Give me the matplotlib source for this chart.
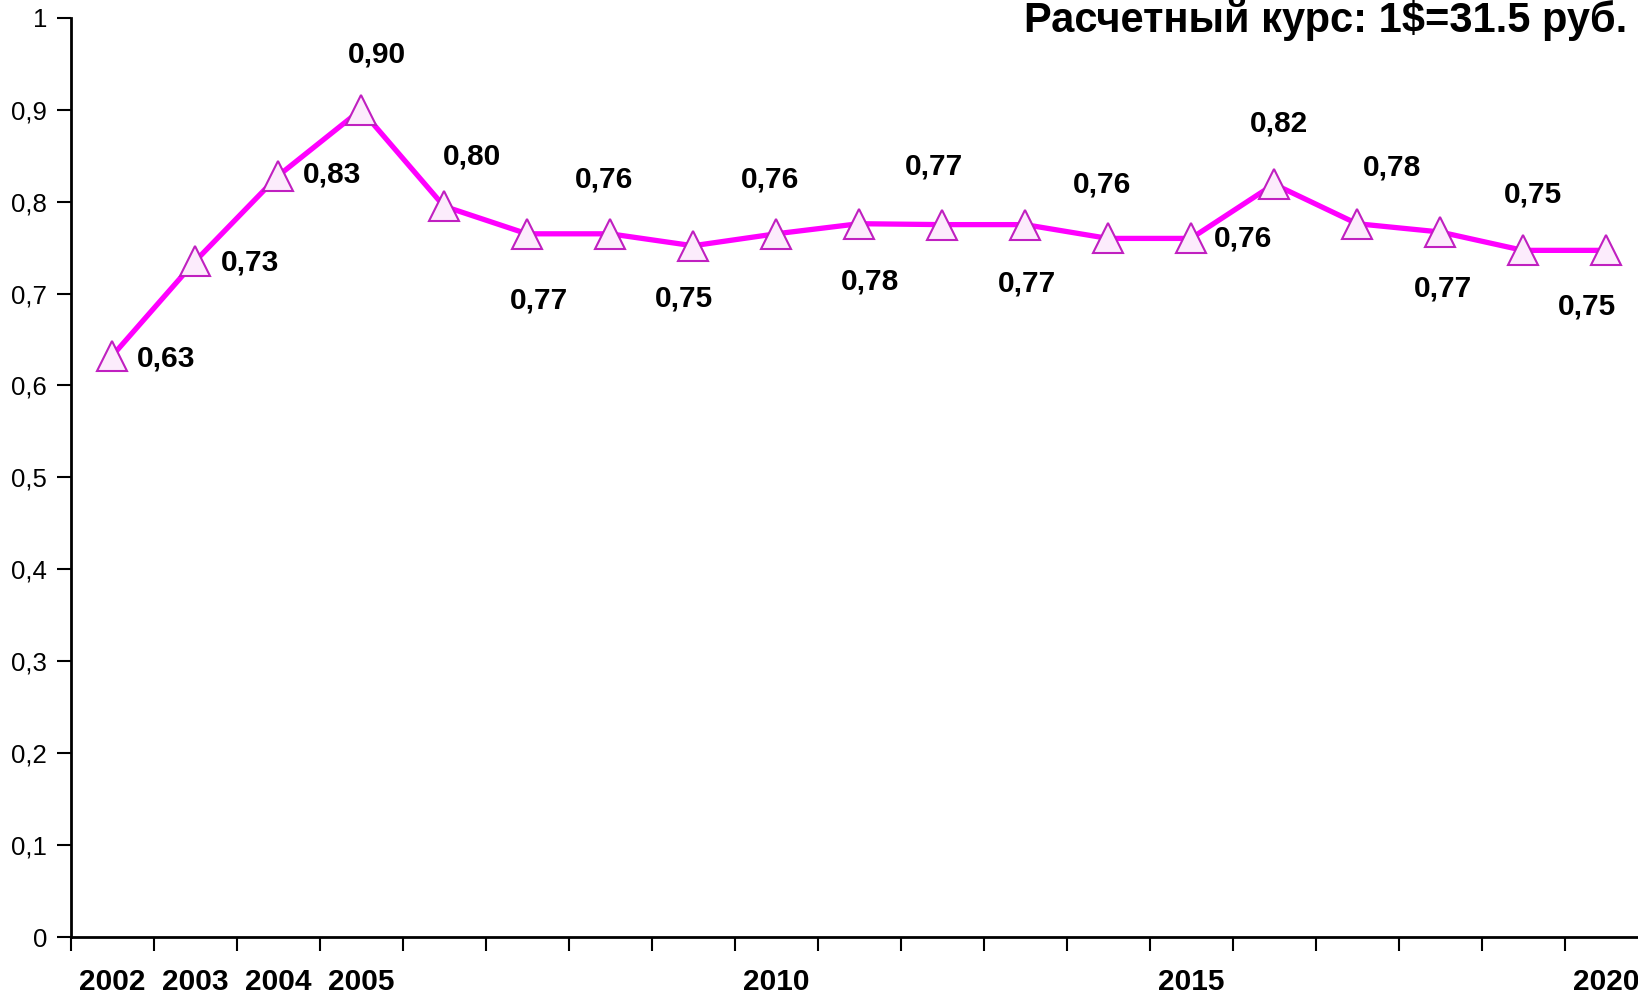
import matplotlib
matplotlib.use("Agg")
import matplotlib.pyplot as plt
from matplotlib.ticker import FixedLocator, FuncFormatter

# data
years = list(range(2002, 2021))
values = [0.632, 0.735, 0.828, 0.900, 0.795, 0.765, 0.765, 0.752, 0.765, 0.776,
          0.775, 0.775, 0.760, 0.760, 0.819, 0.776, 0.767, 0.747, 0.747]
value_labels = ["0,63", "0,73", "0,83", "0,90", "0,80", "0,77", "0,76", "0,75", "0,76", "0,78",
                "0,77", "0,77", "0,76", "0,76", "0,82", "0,78", "0,77", "0,75", "0,75"]
shown_years = [2002, 2003, 2004, 2005, 2010, 2015, 2020]
title = "Расчетный курс: 1$=31.5 руб."

# label placement, offset from each point in pixels (dx, dy up)
label_offsets = [(54, -2), (55, -1), (54, 1), (16, 55), (28, 50), (12, -67), (-6, 54),
                 (-9, -53), (-6, 54), (11, -58), (-8, 58), (2, -59), (-6, 54), (52, 0),
                 (5, 61), (35, 56), (3, -57), (10, 56), (-19, -56)]

plt.rcParams['font.family'] = ['Liberation Sans', 'DejaVu Sans']

fig = plt.figure(figsize=(16.38, 9.97), dpi=100)
ax = fig.add_axes([70.5 / 1638, 1 - 937 / 997, (1647.5 - 70.5) / 1638, (937 - 17.8) / 997])

x = list(range(len(years)))
ax.plot(x, values, color="#ff00ff", lw=3.8, marker="^", markersize=21,
        markerfacecolor="#fcecfc", markeredgecolor="#c020c0", markeredgewidth=1.5,
        clip_on=False, zorder=3)

for xi, v, lab, (dx, dy) in zip(x, values, value_labels, label_offsets):
    ax.annotate(lab, (xi, v), xytext=(dx, dy), textcoords="offset pixels",
                ha="center", va="center", fontsize=21.5, fontweight="bold")

ax.set_xlim(-0.5, len(years) - 0.5)
ax.set_ylim(0, 1)

# category boundaries carry the tick marks, centres carry the labels
ax.xaxis.set_major_locator(FixedLocator([i - 0.5 for i in range(len(years) + 1)]))
ax.xaxis.set_major_formatter(FuncFormatter(lambda v, p: ""))
ax.xaxis.set_minor_locator(FixedLocator([years.index(y) for y in shown_years]))
ax.xaxis.set_minor_formatter(FuncFormatter(lambda v, p: str(years[int(round(v))])))
ax.tick_params(axis="x", which="major", direction="out", length=10, width=1.5)
ax.tick_params(axis="x", which="minor", length=0, pad=22, labelsize=21.5)
for t in ax.xaxis.get_minorticklabels():
    t.set_fontweight("bold")


def ytick_fmt(v, p):
    s = f"{v:.1f}".replace(".", ",")
    return s[0] if s.endswith(",0") else s


ax.set_yticks([i / 10 for i in range(11)])
ax.yaxis.set_major_formatter(FuncFormatter(ytick_fmt))
ax.tick_params(axis="y", direction="out", length=10, width=1.5, pad=7, labelsize=18.5)

for s in ("top", "right"):
    ax.spines[s].set_visible(False)
for s in ("left", "bottom"):
    ax.spines[s].set_linewidth(2)

fig.text(1627 / 1638, 1 - 32 / 997, title, ha="right", va="baseline",
         fontsize=30, fontweight="bold")

fig.savefig("out.png", dpi=100)
